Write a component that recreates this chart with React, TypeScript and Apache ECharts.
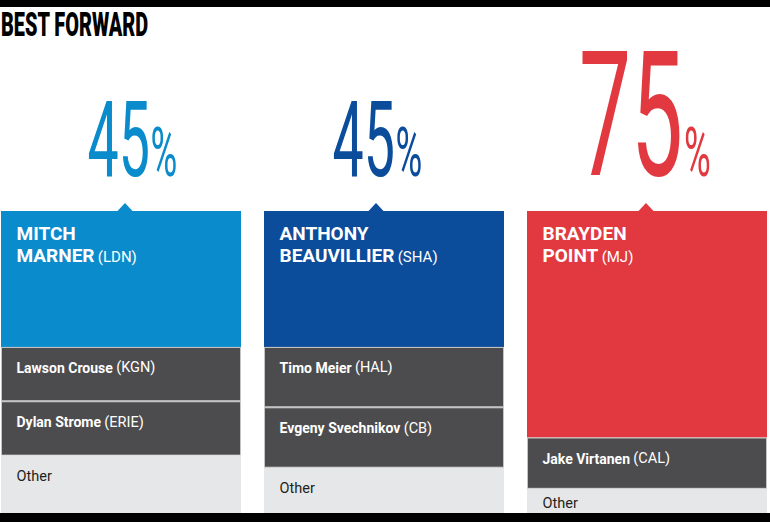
import React, { useEffect, useRef } from "react";
import * as echarts from "echarts";

const CATEGORIES = ["Mitch Marner", "Anthony Beauvillier", "Brayden Point"];
const WINNER_FIRST = ["MITCH", "ANTHONY", "BRAYDEN"];
const WINNER_LAST = ["MARNER", "BEAUVILLIER", "POINT"];
const WINNER_TEAM = ["LDN", "SHA", "MJ"];
const WINNER_PCT = [45, 45, 75];
const SECOND_NAME = ["Lawson Crouse", "Timo Meier", "Jake Virtanen"];
const SECOND_TEAM = ["KGN", "HAL", "CAL"];
const SECOND_PCT = [18, 20, 17];
const THIRD_NAME = ["Dylan Strome", "Evgeny Svechnikov", ""];
const THIRD_TEAM = ["ERIE", "CB", ""];
const THIRD_PCT: (number | null)[] = [18, 20, null];
const OTHER_PCT = [19, 15, 8];
const OTHER_LABEL = "Other";
const TITLE = "BEST FORWARD";

const COLORS = ["#0a8bcb", "#0b4c9b", "#e1393f"];
const DARK = "#4c4c4e";
const LIGHT = "#e6e7e8";
const TEXT_SHIFT = [11.5, -6.5, -2];
const TRI_SHIFT = [4, -8, -1];
const FONT = "Roboto";

export default function App() {
  const ref = useRef<HTMLDivElement>(null);
  useEffect(() => {
    const chart = echarts.init(ref.current!, null, { renderer: "svg" });
    const richSmall = {
      b: { fontFamily: FONT, fontWeight: "bold", fontSize: 14, lineHeight: 14, color: "#fff" },
      t: { fontFamily: FONT, fontSize: 14.5, lineHeight: 14, color: "#fff" },
    };
    const option: any = {
      animation: false,
      backgroundColor: "#fff",
      grid: { left: 121, right: 123, top: 211, bottom: 9 },
      xAxis: { type: "category", data: CATEGORIES, show: false, boundaryGap: false },
      yAxis: { type: "value", min: 0, max: 100, inverse: true, show: false },
      graphic: [
        { type: "rect", z: 100, shape: { x: 0, y: 0, width: 770, height: 7 }, style: { fill: "#000" } },
        { type: "rect", z: 100, shape: { x: 0, y: 513, width: 770, height: 9 }, style: { fill: "#000" } },
        {
          type: "text", z: 100, x: 1, y: 24, scaleX: 0.585,
          style: { text: TITLE, fontFamily: FONT, fontWeight: 900, fontSize: 34, fill: "#000", align: "left", verticalAlign: "middle" },
        },
      ],
      series: [
        {
          type: "bar", stack: "total", barWidth: 240, clip: false,
          data: WINNER_PCT.map((v, i) => ({ value: v, itemStyle: { color: COLORS[i] } })),
          label: {
            show: true, position: [15.5, 11.5], align: "left", verticalAlign: "top",
            formatter: (p: any) => `{n|${WINNER_FIRST[p.dataIndex]}}\n{n|${WINNER_LAST[p.dataIndex]}} {t|(${WINNER_TEAM[p.dataIndex]})}`,
            rich: {
              n: { fontFamily: FONT, fontWeight: "bold", fontSize: 19, lineHeight: 22, color: "#fff" },
              t: { fontFamily: FONT, fontSize: 15, lineHeight: 22, color: "#fff", padding: [3, 0, 0, 0] },
            },
          },
        },
        {
          type: "bar", stack: "total", barWidth: 240, clip: false,
          data: SECOND_PCT,
          itemStyle: { color: DARK, borderColor: "#c4c4c4", borderWidth: 1 },
          label: {
            show: true, position: [15.5, 14], align: "left", verticalAlign: "top",
            formatter: (p: any) => `{b|${SECOND_NAME[p.dataIndex]}} {t|(${SECOND_TEAM[p.dataIndex]})}`,
            rich: richSmall,
          },
        },
        {
          type: "bar", stack: "total", barWidth: 240, clip: false,
          data: THIRD_PCT.map((v) => (v == null ? "-" : v)),
          itemStyle: { color: DARK, borderColor: "#c4c4c4", borderWidth: 1 },
          label: {
            show: true, position: [15.5, 14], align: "left", verticalAlign: "top",
            formatter: (p: any) => `{b|${THIRD_NAME[p.dataIndex]}} {t|(${THIRD_TEAM[p.dataIndex]})}`,
            rich: richSmall,
          },
        },
        {
          type: "bar", stack: "total", barWidth: 240, clip: false,
          data: OTHER_PCT.map((v) => (v < 10 ? { value: v, label: { position: [15.5, 8] } } : v)),
          itemStyle: { color: LIGHT },
          label: {
            show: true, position: [15.5, 14], align: "left", verticalAlign: "top",
            formatter: () => OTHER_LABEL,
            fontFamily: FONT, fontSize: 14.5, lineHeight: 14, color: "#231f20",
          },
        },
        {
          type: "custom",
          z: 10,
          clip: false,
          data: WINNER_PCT.map((v, i) => [i, v]),
          renderItem: (params: any, api: any) => {
            const i = api.value(0);
            const v = api.value(1);
            const p = api.coord([i, 0]);
            const color = COLORS[i];
            const tx = p[0] + TRI_SHIFT[i];
            const top = p[1];
            const F = v * 2.33;
            const P = 69;
            const Wd = 1.135 * F;
            const Wp = 0.74 * P;
            const W = Wd + Wp;
            const yb = top - 34;
            return {
              type: "group",
              children: [
                { type: "polygon", shape: { points: [[tx - 8, top + 0.5], [tx + 8, top + 0.5], [tx, top - 8]] }, style: { fill: color } },
                {
                  type: "group", x: p[0] + TEXT_SHIFT[i], y: 0, scaleX: 0.53,
                  children: [
                    { type: "text", x: -W / 2, y: yb - 0.355 * F, style: { text: String(v), fontFamily: FONT, fontSize: F, fill: color, align: "left", verticalAlign: "middle" } },
                    { type: "text", x: -W / 2 + Wd, y: yb - 0.355 * P, style: { text: "%", fontFamily: FONT, fontSize: P, fill: color, align: "left", verticalAlign: "middle" } },
                  ],
                },
              ],
            };
          },
        },
      ],
    };
    chart.setOption(option);
    return () => chart.dispose();
  }, []);
  return <div ref={ref} style={{ position: "fixed", left: 0, top: 0, width: 770, height: 522, background: "#fff" }} />;
}
